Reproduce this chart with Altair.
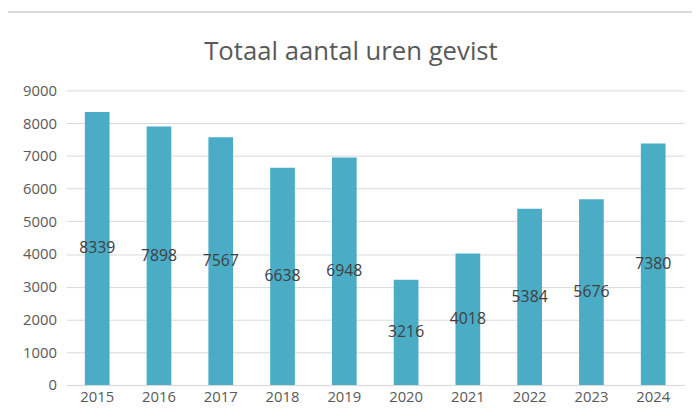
import altair as alt
import pandas as pd

years = ["2015", "2016", "2017", "2018", "2019", "2020", "2021", "2022", "2023", "2024"]
hours = [8339, 7898, 7567, 6638, 6948, 3216, 4018, 5384, 5676, 7380]
title_text = "Totaal aantal uren gevist"

df = pd.DataFrame({"jaar": years, "uren": hours})

FONT = "Open Sans"
x_axis = alt.Axis(labelAngle=0, labelColor="#595959", labelFontSize=15, labelFont=FONT,
                  ticks=False, domainColor="#d9d9d9", labelPadding=5, grid=False)
y_axis = alt.Axis(values=list(range(0, 9001, 1000)), format="d", labelColor="#595959",
                  labelFontSize=15, labelFont=FONT, ticks=False, domain=False,
                  gridColor="#d9d9d9", labelPadding=10)
x_scale = alt.Scale(paddingInner=0.6, paddingOuter=0.3)
y_scale = alt.Scale(domain=[0, 9000], nice=False)

bars = alt.Chart(df).mark_bar(color="#4bacc6").encode(
    x=alt.X("jaar:O", sort=years, title=None, scale=x_scale, axis=x_axis),
    y=alt.Y("uren:Q", title=None, scale=y_scale, axis=y_axis))

labels = alt.Chart(df).transform_calculate(mid="datum.uren / 2").mark_text(
    font=FONT, fontSize=16, color="#404040", baseline="middle"
).encode(x=alt.X("jaar:O", sort=years, title=None, scale=x_scale, axis=x_axis),
         y=alt.Y("mid:Q", title=None, scale=y_scale, axis=y_axis),
         text=alt.Text("uren:Q", format="d"))

title = alt.Chart(pd.DataFrame({"t": [title_text]})).mark_text(
    font=FONT, fontSize=26, color="#595959", baseline="alphabetic", align="center", clip=False
).encode(text="t:N", x=alt.value(288), y=alt.value(-31))

# spreadsheet grid remnant at top of screenshot
top_line = alt.Chart(df).mark_rule(color="#d9d9d9", strokeWidth=1, clip=False).encode(
    x=alt.value(-59), x2=alt.value(633), y=alt.value(-79))

chart = alt.layer(bars, labels, title, top_line).properties(
    width=625, height=298,
    padding={"left": 59, "top": 81, "right": 8, "bottom": 25},
    autosize=alt.AutoSizeParams(type="none"),
    background="white",
).configure_view(stroke=None)

chart.save("out.html", embed_options={"renderer": "svg", "actions": False})
